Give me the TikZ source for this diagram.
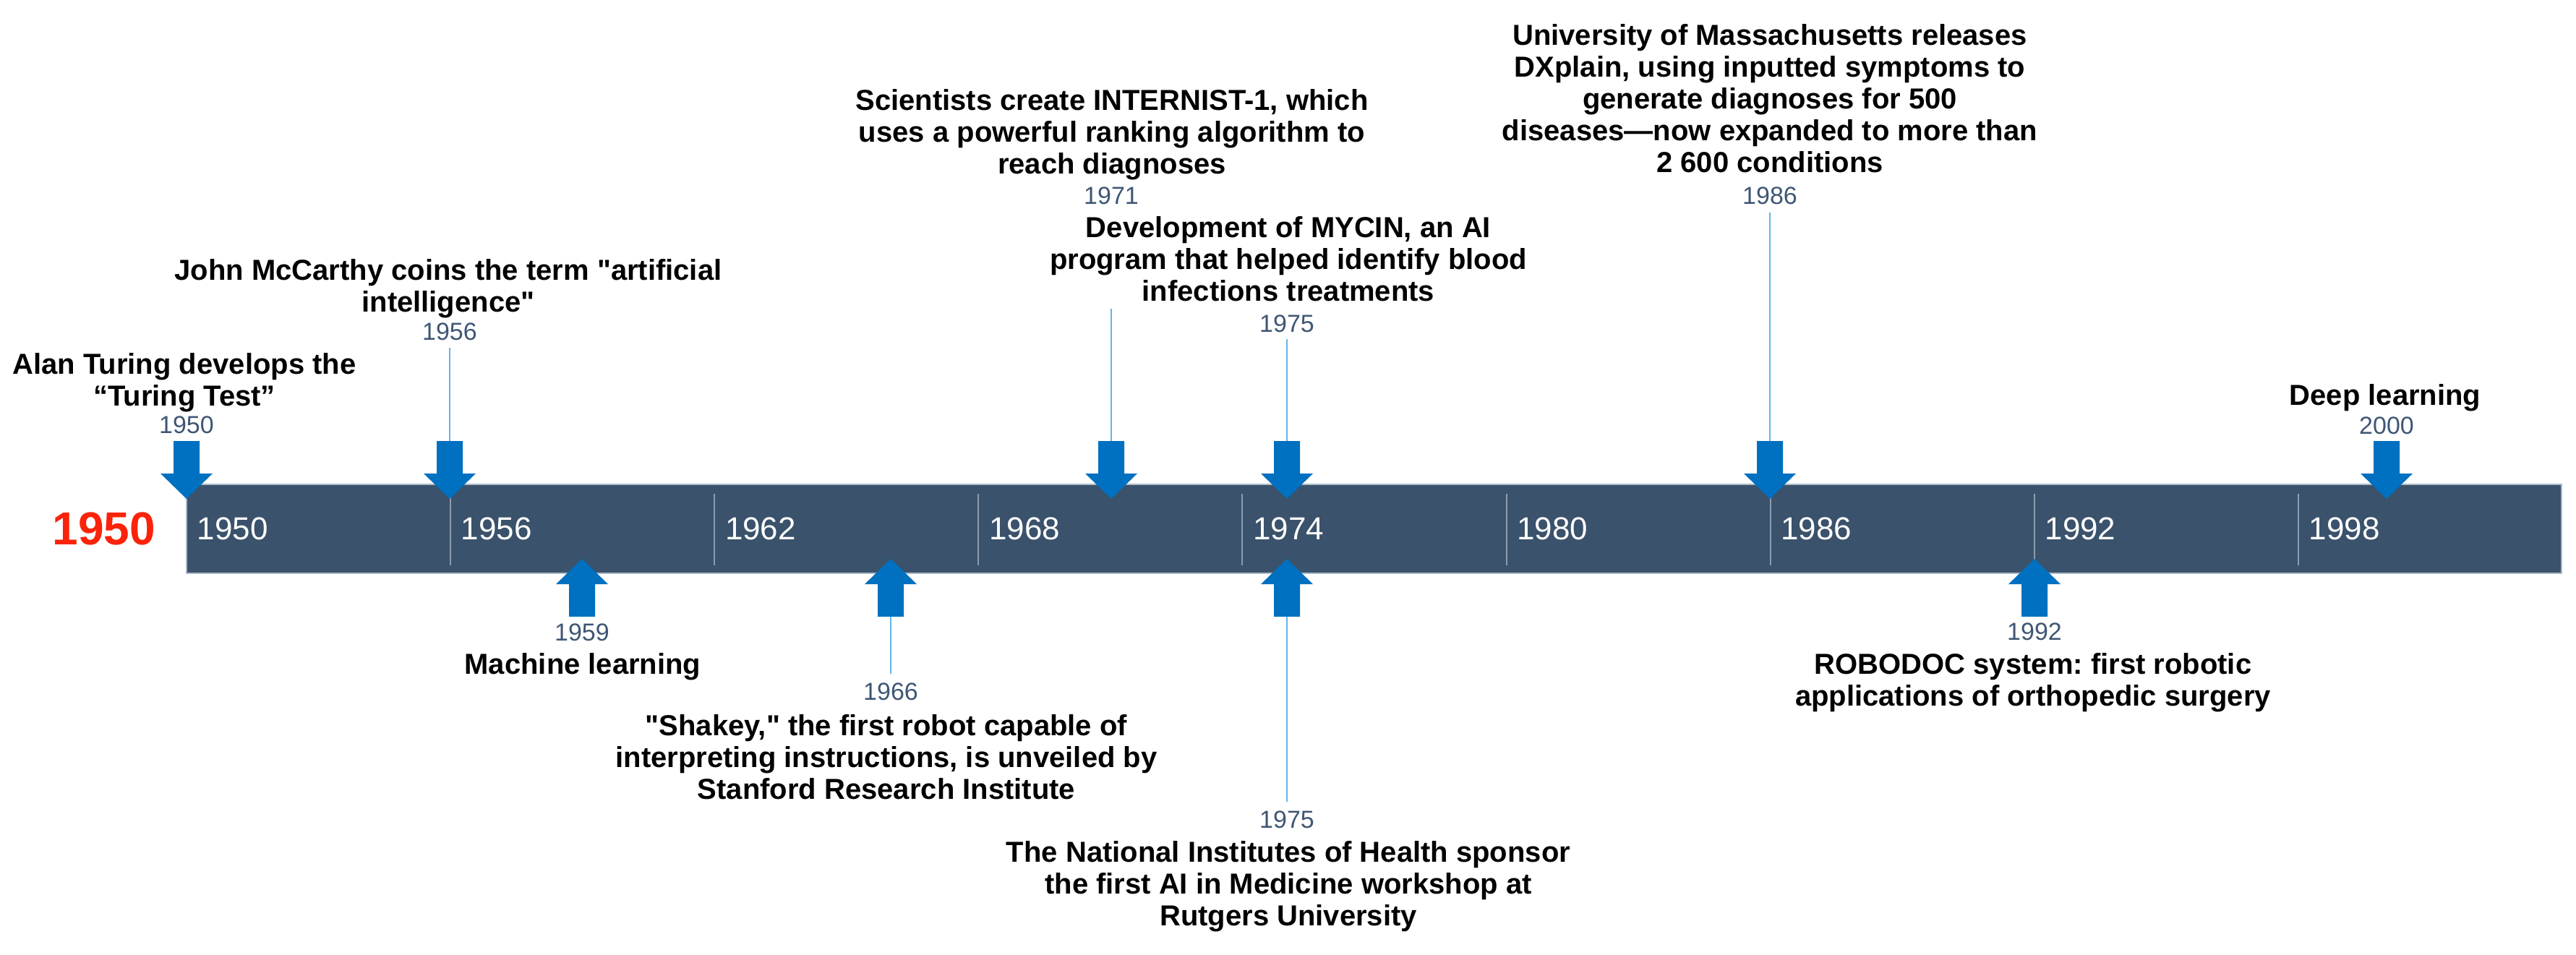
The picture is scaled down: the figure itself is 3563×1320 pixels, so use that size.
\documentclass[tikz,border=0pt]{standalone}
\usepackage{fontspec}
\setmainfont{Liberation Sans}
\newfontfamily\lsans{Liberation Sans}
\definecolor{barcol}{RGB}{58,82,107}
\definecolor{baredge}{RGB}{172,186,200}
\definecolor{tickcol}{RGB}{140,156,172}
\definecolor{arrowblue}{RGB}{0,112,192}
\definecolor{connblue}{RGB}{100,180,230}
\definecolor{yearcol}{RGB}{62,86,116}
\definecolor{redc}{RGB}{250,35,10}
\begin{document}
\frenchspacing
\begin{tikzpicture}[x=0.25pt,y=-0.25pt,
  evt/.style={font=\lsans\bfseries\fontsize{10}{11}\selectfont, align=center, inner sep=0pt, anchor=north},
  yr/.style={font=\lsans\fontsize{8.5}{10}\selectfont, text=yearcol, inner sep=0pt},
  barlbl/.style={font=\lsans\fontsize{11}{13}\selectfont, text=white, inner sep=0pt, anchor=west},
  conn/.style={draw=connblue, line width=0.5pt},
  barTick/.style={draw=tickcol, line width=0.5pt},
  downarr/.pic={\fill[arrowblue] (-18,0) -- (18,0) -- (18,45) -- (36,45) -- (0,80) -- (-36,45) -- (-18,45) -- cycle;},
  uparr/.pic={\fill[arrowblue] (-18,0) -- (18,0) -- (18,-45) -- (36,-45) -- (0,-80) -- (-36,-45) -- (-18,-45) -- cycle;}
]
\useasboundingbox (0,0) rectangle (3563,1320);

% timeline bar
\node[fill=barcol, draw=baredge, line width=0.5pt, minimum width=821.25pt, minimum height=30.75pt, inner sep=0pt] (bar) at (1900.5,731.5) {};
\foreach \i in {1,...,8} \draw[barTick] ({258+\i*365.1},683) -- ({258+\i*365.1},782);
\foreach \i/\yy in {0/1950,1/1956,2/1962,3/1968,4/1974,5/1980,6/1986,7/1992,8/1998}
  \node[barlbl] (bl\yy) at ({258+\i*365.1+14},731) {\yy};
\node[font=\lsans\bfseries\fontsize{16}{18}\selectfont, text=redc, inner sep=0pt] (start) at (144,731) {1950};

% arrows (above)
\foreach \xx in {258,622,1537,1780,2448,3301} \pic at (\xx,610) {downarr};
% arrows (below)
\foreach \xx in {805,1232,1780,2814} \pic at (\xx,853) {uparr};

% arrow tails
\coordinate (a1956) at (622,610);
\coordinate (a1971) at (1537,610);
\coordinate (a1975t) at (1780,610);
\coordinate (a1986) at (2448,610);
\coordinate (a1966) at (1232,853);
\coordinate (a1975b) at (1780,853);
\coordinate (c1971) at (1537,427);

% year labels
\node[yr] (yr1950) at (258,588) {1950};
\node[yr] (yr1956) at (622,459) {1956};
\node[yr] (yr1971) at (1537,271) {1971};
\node[yr] (yr1975t) at (1780,448) {1975};
\node[yr] (yr1986) at (2448,271) {1986};
\node[yr] (yr2000) at (3301,589) {2000};
\node[yr] (yr1959) at (805,875) {1959};
\node[yr] (yr1966) at (1232,957) {1966};
\node[yr] (yr1975b) at (1780,1134) {1975};
\node[yr] (yr1992) at (2814,874) {1992};

% connectors
\draw[conn, shorten <=2.25pt] (yr1956.south) -- (a1956);
\draw[conn] (c1971) -- (a1971);
\draw[conn, shorten <=2pt] (yr1975t.south) -- (a1975t);
\draw[conn, shorten <=2.5pt] (yr1986.south) -- (a1986);
\draw[conn, shorten >=3pt] (a1966) -- (yr1966.north);
\draw[conn, shorten >=3pt] (a1975b) -- (yr1975b.north);

% event texts
\node[evt] (evt1950) at (255,488) {Alan Turing develops the\\“Turing Test”};
\node[evt] (evt1956) at (620,358) {John McCarthy coins the term "artificial\\intelligence"};
\node[evt] (evt1971) at (1538,123) {Scientists create INTERNIST-1, which\\uses a powerful ranking algorithm to\\reach diagnoses};
\node[evt] (evt1975a) at (1782,299) {Development of MYCIN, an AI\\program that helped identify blood\\infections treatments};
\node[evt] (evt1986) at (2448,33) {University of Massachusetts releases\\DXplain, using inputted symptoms to\\generate diagnoses for 500\\diseases—now expanded to more than\\2 600 conditions};
\node[evt] (evt2000) at (3299,531) {Deep learning};
\node[evt] (evt1959) at (806,903) {Machine learning};
\node[evt] (evt1966) at (1226,988) {"Shakey," the first robot capable of\\interpreting instructions, is unveiled by\\Stanford Research Institute};
\node[evt] (evt1975b) at (1782,1163) {The National Institutes of Health sponsor\\the first AI in Medicine workshop at\\Rutgers University};
\node[evt] (evt1992) at (2812,903) {ROBODOC system: first robotic\\applications of orthopedic surgery};
\end{tikzpicture}
\end{document}
